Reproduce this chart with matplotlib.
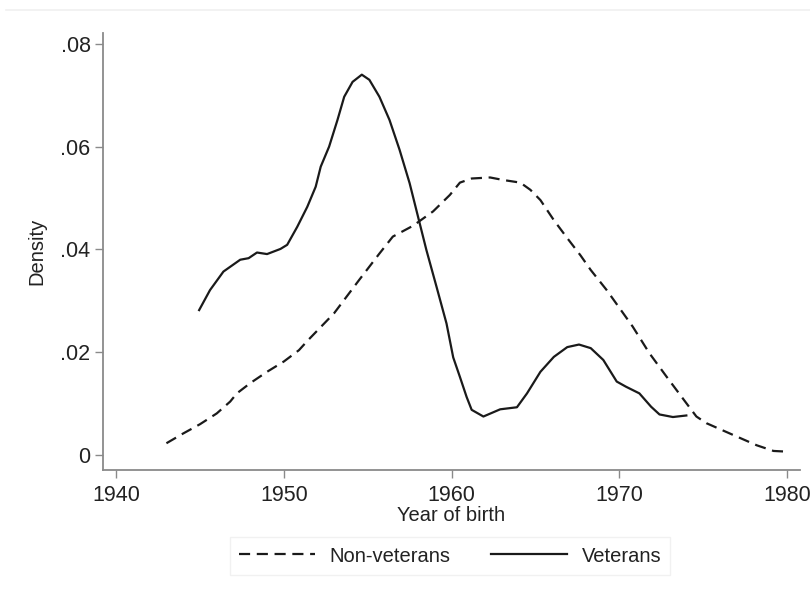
#!/usr/bin/env python3
# -*- coding: utf-8 -*-

##-Imports
import matplotlib
matplotlib.use('Agg')
import matplotlib.pyplot as plt
from matplotlib.lines import Line2D


##-Data
vet_year = [1944.95, 1945.6, 1946.4, 1947.4, 1947.9, 1948.4, 1949.0, 1949.8, 1950.2, 1950.8,
            1951.4, 1951.9, 1952.2, 1952.7, 1953.2, 1953.6, 1954.1, 1954.65, 1955.1, 1955.7,
            1956.3, 1956.9, 1957.5, 1958.0, 1958.5, 1959.1, 1959.7, 1960.1, 1960.5, 1960.9,
            1961.2, 1961.9, 1962.9, 1963.9, 1964.5, 1965.3, 1966.1, 1966.9, 1967.6, 1968.3,
            1969.05, 1969.85, 1970.4, 1971.2, 1971.9, 1972.4, 1973.2, 1974.0]
vet_dens = [0.0282, 0.0321, 0.0357, 0.0380, 0.0383, 0.0394, 0.0391, 0.0401, 0.0409, 0.0444,
            0.0483, 0.0522, 0.0561, 0.0600, 0.0652, 0.0697, 0.0726, 0.0740, 0.0730, 0.0697,
            0.0652, 0.0594, 0.0529, 0.0464, 0.0399, 0.0328, 0.0256, 0.0190, 0.0152, 0.0113,
            0.0088, 0.0075, 0.0089, 0.0093, 0.0120, 0.0162, 0.0191, 0.0210, 0.0215, 0.0208,
            0.0185, 0.0143, 0.0133, 0.0120, 0.0094, 0.0079, 0.0074, 0.0077]

nonvet_year = [1943.0, 1944.0, 1945.0, 1946.0, 1946.8, 1947.2, 1948.0, 1949.0, 1950.0, 1950.9,
               1951.4, 1953.0, 1954.5, 1955.7, 1956.5, 1957.7, 1958.9, 1959.9, 1960.5, 1961.2,
               1962.3, 1963.1, 1964.1, 1964.7, 1965.3, 1966.1, 1966.9, 1967.7, 1968.3, 1969.25,
               1970.8, 1971.8, 1972.9, 1974.0, 1974.6, 1975.2, 1976.8, 1978.2, 1979.2, 1979.8]
nonvet_dens = [0.0023, 0.0042, 0.0060, 0.0081, 0.0104, 0.0120, 0.0140, 0.0162, 0.0182, 0.0204,
               0.0222, 0.0276, 0.0341, 0.0392, 0.0425, 0.0446, 0.0474, 0.0506, 0.0530, 0.0538,
               0.0540, 0.0535, 0.0530, 0.0516, 0.0496, 0.0457, 0.0422, 0.0388, 0.0360, 0.0321,
               0.0250, 0.0198, 0.0149, 0.0101, 0.0075, 0.0062, 0.0039, 0.0019, 0.0008, 0.0007]

x_ticks = [1940, 1950, 1960, 1970, 1980]
y_ticks = [0, 0.02, 0.04, 0.06, 0.08]
y_tick_labels = ['0', '.02', '.04', '.06', '.08']


##-Plot
plt.rcParams['font.family'] = ['Liberation Sans', 'DejaVu Sans']

fig = plt.figure(figsize=(8.1, 5.94), dpi=100)
ax = fig.add_axes([0.1272, 0.2088, 0.8605, 0.7356])

ax.plot(nonvet_year, nonvet_dens, color='#1a1a1a', lw=1.6, dashes=(5, 3), label='Non-veterans')
ax.plot(vet_year, vet_dens, color='#1a1a1a', lw=1.6, label='Veterans')

ax.set_xlim(1939.22, 1980.78)
ax.set_ylim(-0.0029, 0.0821)
ax.set_xticks(x_ticks)
ax.set_yticks(y_ticks)
ax.set_yticklabels(y_tick_labels)

for s in ('top', 'right'):
    ax.spines[s].set_visible(False)
for s in ('left', 'bottom'):
    ax.spines[s].set_color('#8a8a8a')
    ax.spines[s].set_linewidth(1.3)

ax.tick_params(direction='out', length=6, width=1, color='#8a8a8a',
               labelsize=15.5, labelcolor='#222222')
ax.tick_params(axis='x', pad=5)
ax.tick_params(axis='y', pad=3)

ax.set_xlabel('Year of birth', fontsize=14.5, color='#222222', labelpad=0)
ax.set_ylabel('Density', fontsize=14.5, color='#222222', labelpad=10)

leg = fig.legend(loc='center', bbox_to_anchor=(450 / 810, 1 - 556 / 594), ncol=2,
                 fontsize=14.5, frameon=True, fancybox=False, handlelength=3.8,
                 columnspacing=2.0, handletextpad=0.7, borderpad=0.45)
leg.get_frame().set_edgecolor('#eeeeee')
leg.get_frame().set_linewidth(1.0)
for t in leg.get_texts():
    t.set_color('#222222')

# faint frame line at the top of the image
fig.add_artist(Line2D([0.008, 1.0], [1 - 10 / 594, 1 - 10 / 594], color='#f0f0f0', lw=1.2))

fig.savefig('out.png', dpi=100, facecolor='white')
